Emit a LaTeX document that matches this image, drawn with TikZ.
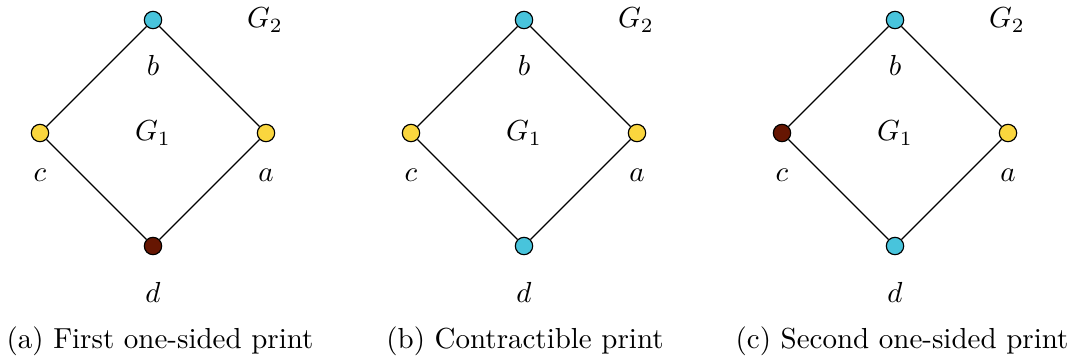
\documentclass[tikz,border=0pt]{standalone}
\begin{document}
\begin{tikzpicture}[x=0.345pt,y=-0.345pt,
  vtx/.style={circle,draw=black,line width=0.4pt,minimum size=6pt,inner sep=0pt},
  cy/.style={vtx,fill={rgb,255:red,72;green,196;blue,220}},
  ye/.style={vtx,fill={rgb,255:red,250;green,214;blue,62}},
  dr/.style={vtx,fill={rgb,255:red,102;green,22;blue,2}},
  edge/.style={line width=0.4pt},
  lbl/.style={inner sep=0pt}]
\useasboundingbox (0,0) rectangle (1075,361);
\foreach \ox/\cc/\dc/\cap/\cx in {0/ye/dr/{(a) First one-sided print}/160, 371/ye/cy/{(b) Contractible print}/525, 742/dr/cy/{(c) Second one-sided print}/902}{
  \begin{scope}[xshift=\ox*0.345pt]
    \node[cy] (b) at (153,20) {};
    \node[\cc] (c) at (40,133) {};
    \node[ye] (a) at (266,133) {};
    \node[\dc] (d) at (153,246) {};
    \draw[edge] (b) -- (c) (b) -- (a) (c) -- (d) (a) -- (d);
    \node[lbl] (lb) at (153,65) {$b$};
    \node[lbl] (lc) at (40,175) {$c$};
    \node[lbl] (la) at (266,175) {$a$};
    \node[lbl] (ld) at (153,292) {$d$};
    \node[lbl] (g1) at (153,133) {$G_1$};
    \node[lbl] (g2) at (265,20) {$G_2$};
  \end{scope}
  \node[lbl] (cap) at (\cx,341) {\cap};
}
\end{tikzpicture}
\end{document}
